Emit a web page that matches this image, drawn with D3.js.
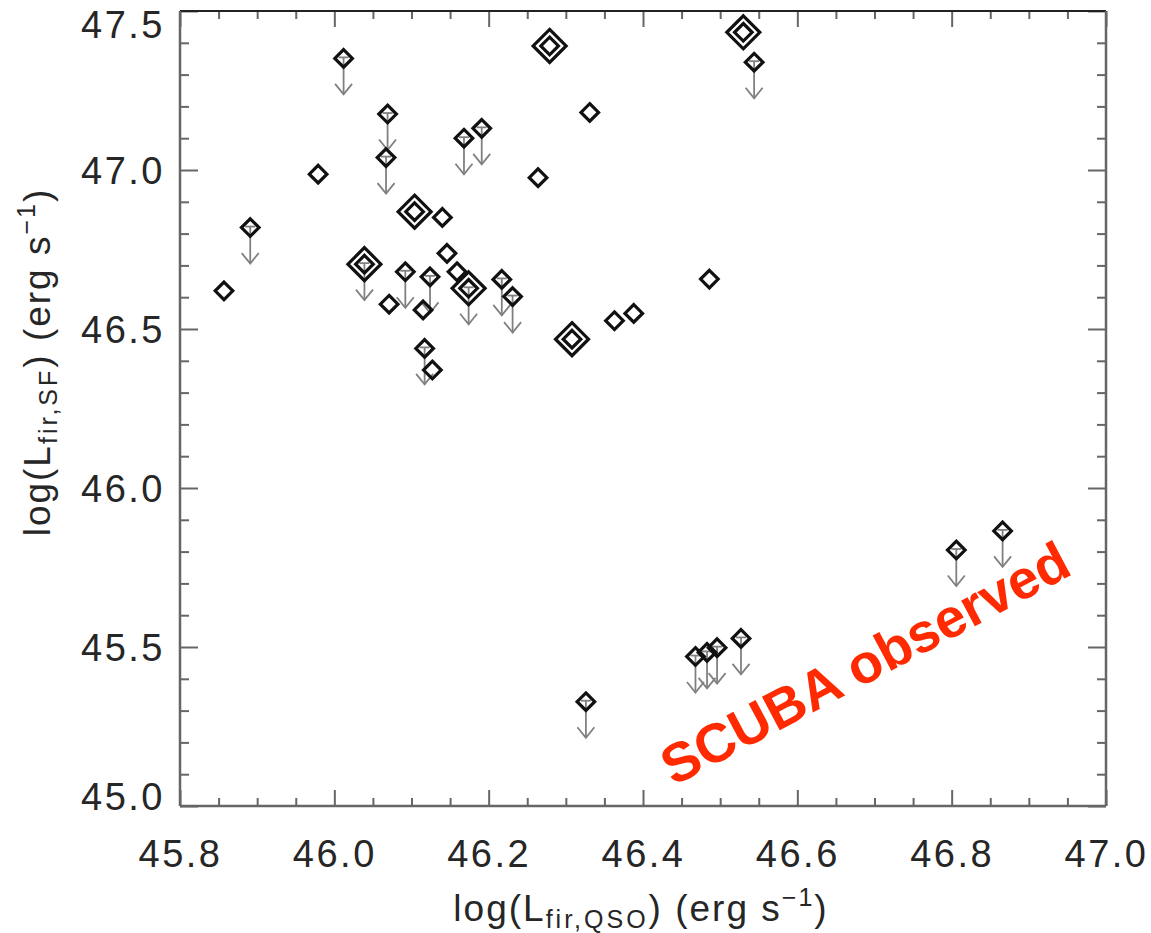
<!DOCTYPE html>
<html>
<head>
<meta charset="utf-8">
<script src="https://cdn.jsdelivr.net/npm/d3@7"></script>
<style>
  html, body { margin: 0; padding: 0; background: #fff; }
  svg { display: block; }
  text { font-family: "Liberation Sans", Arial, Helvetica, sans-serif; }
</style>
</head>
<body>
<svg id="chart" width="1151" height="933"></svg>
<script>
// ---- data ----
const lQSO = [45.857, 45.891, 45.979, 46.012, 46.069, 46.067, 46.104, 46.140, 46.039, 46.071,
              46.092, 46.124, 46.115, 46.146, 46.159, 46.174, 46.217, 46.231, 46.117, 46.127,
              46.168, 46.191, 46.264, 46.279, 46.331, 46.308, 46.363, 46.388, 46.486, 46.530,
              46.544, 46.326, 46.468, 46.483, 46.496, 46.527, 46.806, 46.866];
const lSF  = [46.620, 46.819, 46.987, 47.351, 47.176, 47.039, 46.869, 46.851, 46.704, 46.578,
              46.680, 46.664, 46.560, 46.738, 46.680, 46.628, 46.656, 46.602, 46.439, 46.371,
              47.100, 47.131, 46.976, 47.390, 47.181, 46.468, 46.526, 46.549, 46.657, 47.433,
              47.339, 45.328, 45.470, 45.483, 45.498, 45.527, 45.805, 45.865];
// 1 = upper limit (arrow), 0 = detection
const upperLimit = [0, 1, 0, 1, 1, 1, 0, 0, 1, 0,
                    1, 1, 0, 0, 0, 1, 1, 1, 1, 0,
                    1, 1, 0, 0, 0, 0, 0, 0, 0, 0,
                    1, 1, 1, 1, 1, 1, 1, 1];
// 1 = large double diamond
const bigSymbol = [0, 0, 0, 0, 0, 0, 1, 0, 1, 0,
                   0, 0, 0, 0, 0, 1, 0, 0, 0, 0,
                   0, 0, 0, 1, 0, 1, 0, 0, 0, 1,
                   0, 0, 0, 0, 0, 0, 0, 0];
const xMajorTicks = [45.8, 46.0, 46.2, 46.4, 46.6, 46.8, 47.0];
const xMinorTicks = [45.85, 45.9, 45.95, 46.05, 46.1, 46.15, 46.25, 46.3, 46.35, 46.45, 46.5, 46.55,
                     46.65, 46.7, 46.75, 46.85, 46.9, 46.95];
const yMajorTicks = [45.0, 45.5, 46.0, 46.5, 47.0, 47.5];
const yMinorTicks = [45.1, 45.2, 45.3, 45.4, 45.6, 45.7, 45.8, 45.9, 46.1, 46.2, 46.3, 46.4,
                     46.6, 46.7, 46.8, 46.9, 47.1, 47.2, 47.3, 47.4];
const xDomain = [45.8, 47.0];
const yDomain = [45.0, 47.5];
const annotation = "SCUBA observed";

// ---- layout ----
const L = 180, R = 1106, T = 11, B = 806;
const svg = d3.select("#chart");
const x = d3.scaleLinear().domain(xDomain).range([L, R]);
const y = d3.scaleLinear().domain(yDomain).range([B, T]);

const axisColor = "#666";
const textColor = "#262626";
const fmt = d3.format(".1f");

function styleAxis(g) {
  g.select(".domain").remove();
  g.selectAll(".tick line").attr("stroke", axisColor).attr("stroke-width", 2);
}

// bottom
svg.append("g").attr("transform", `translate(0,${B})`)
  .call(d3.axisBottom(x).tickValues(xMinorTicks).tickSize(-8).tickFormat(""))
  .call(styleAxis);
const gxb = svg.append("g").attr("transform", `translate(0,${B})`)
  .call(d3.axisBottom(x).tickValues(xMajorTicks).tickSize(-16).tickFormat(fmt))
  .call(styleAxis);
gxb.selectAll(".tick text")
  .attr("y", 61).attr("dy", null)
  .attr("fill", textColor).attr("font-size", 38).attr("letter-spacing", 2.5)
  .attr("font-family", "Liberation Sans, Arial, sans-serif");

// top
svg.append("g").attr("transform", `translate(0,${T})`)
  .call(d3.axisTop(x).tickValues(xMinorTicks).tickSize(-8).tickFormat(""))
  .call(styleAxis);
svg.append("g").attr("transform", `translate(0,${T})`)
  .call(d3.axisTop(x).tickValues(xMajorTicks).tickSize(-16).tickFormat(""))
  .call(styleAxis);

// left
svg.append("g").attr("transform", `translate(${L},0)`)
  .call(d3.axisLeft(y).tickValues(yMinorTicks).tickSize(-9).tickFormat(""))
  .call(styleAxis);
const gyl = svg.append("g").attr("transform", `translate(${L},0)`)
  .call(d3.axisLeft(y).tickValues(yMajorTicks).tickSize(-18).tickFormat(fmt))
  .call(styleAxis);
gyl.selectAll(".tick text")
  .attr("x", -15).attr("dy", "0.36em")
  .attr("fill", textColor).attr("font-size", 38).attr("letter-spacing", 2.5)
  .attr("font-family", "Liberation Sans, Arial, sans-serif")
  .attr("transform", d => {
    const py = y(d);
    const c = Math.max(24, Math.min(796, py));
    return `translate(0,${c - py})`;
  });

// right
svg.append("g").attr("transform", `translate(${R},0)`)
  .call(d3.axisRight(y).tickValues(yMinorTicks).tickSize(-9).tickFormat(""))
  .call(styleAxis);
svg.append("g").attr("transform", `translate(${R},0)`)
  .call(d3.axisRight(y).tickValues(yMajorTicks).tickSize(-18).tickFormat(""))
  .call(styleAxis);

// frame
svg.append("line").attr("x1", L).attr("x2", R).attr("y1", T).attr("y2", T)
  .attr("stroke", "#222").attr("stroke-width", 2);
svg.append("line").attr("x1", L).attr("x2", R).attr("y1", B).attr("y2", B)
  .attr("stroke", axisColor).attr("stroke-width", 2.5);
svg.append("line").attr("x1", L).attr("x2", L).attr("y1", T).attr("y2", B)
  .attr("stroke", axisColor).attr("stroke-width", 2.5);
svg.append("line").attr("x1", R).attr("x2", R).attr("y1", T).attr("y2", B)
  .attr("stroke", axisColor).attr("stroke-width", 2.5);

// axis titles
const xt = svg.append("text").attr("x", 641).attr("y", 921)
  .attr("text-anchor", "middle").attr("font-size", 37).attr("fill", textColor)
  .attr("letter-spacing", 2);
xt.append("tspan").text("log(L");
xt.append("tspan").attr("font-size", 25).attr("dy", 7).attr("letter-spacing", 3).text("fir,QSO");
xt.append("tspan").attr("dy", -7).text(") (erg s");
xt.append("tspan").attr("font-size", 25).attr("dy", -15).text("\u22121");
xt.append("tspan").attr("dy", 15).text(")");

const yt = svg.append("text").attr("transform", "translate(50,362) rotate(-90)")
  .attr("text-anchor", "middle").attr("font-size", 37).attr("fill", textColor)
  .attr("letter-spacing", 2);
yt.append("tspan").text("log(L");
yt.append("tspan").attr("font-size", 25).attr("dy", 7).attr("letter-spacing", 3).text("fir,SF");
yt.append("tspan").attr("dy", -7).text(") (erg s");
yt.append("tspan").attr("font-size", 25).attr("dy", -15).text("\u22121");
yt.append("tspan").attr("dy", 15).text(")");

// ---- points ----
const pts = lQSO.map((v, i) => ({ x: v, y: lSF[i], lim: upperLimit[i], big: bigSymbol[i] }));
const diamond = r => `M0,${-r}L${r},0L0,${r}L${-r},0Z`;
const arrowLen = 36, headW = 8.5, headH = 10.5;
const limColor = "#808080";

const gLim = svg.append("g");
pts.filter(d => d.lim).forEach(d => {
  const g = gLim.append("g").attr("transform", `translate(${x(d.x)},${y(d.y)})`);
  g.append("line").attr("x1", 0).attr("x2", 0).attr("y1", -1).attr("y2", arrowLen)
    .attr("stroke", limColor).attr("stroke-width", 1.8);
  g.append("line").attr("x1", -5).attr("x2", 5).attr("y1", -1).attr("y2", -1)
    .attr("stroke", limColor).attr("stroke-width", 1.8);
  g.append("path").attr("d", `M${-headW},${arrowLen - headH}L0,${arrowLen}L${headW},${arrowLen - headH}`)
    .attr("fill", "none").attr("stroke", limColor).attr("stroke-width", 1.8);
});

const gPts = svg.append("g");
pts.forEach(d => {
  const g = gPts.append("g").attr("transform", `translate(${x(d.x)},${y(d.y)})`);
  g.append("path").attr("d", diamond(8.8)).attr("fill", "none")
    .attr("stroke", "#111").attr("stroke-width", 3.2);
  if (d.big) {
    g.append("path").attr("d", diamond(16.5)).attr("fill", "none")
      .attr("stroke", "#111").attr("stroke-width", 3.2);
  }
});

// annotation
svg.append("text").attr("transform", "translate(874,680) rotate(-28)")
  .attr("text-anchor", "middle").attr("font-size", 55).attr("font-weight", "bold")
  .attr("fill", "#ff2a00").text(annotation);
</script>
</body>
</html>
